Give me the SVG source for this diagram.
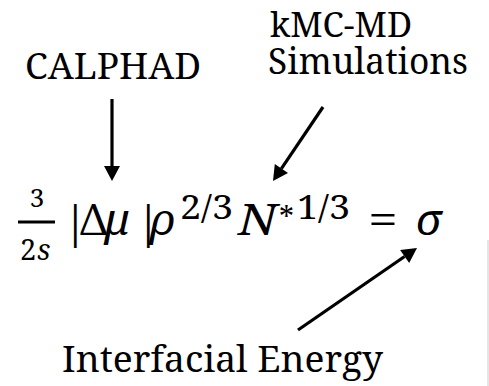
<svg xmlns="http://www.w3.org/2000/svg" width="489" height="386" viewBox="0 0 489 386">
<rect x="0" y="0" width="489" height="386" fill="#ffffff"/>
<line x1="488" y1="240" x2="488" y2="386" stroke="#dcdcdc" stroke-width="1.5"/>
<g id="calphad"><text style="font-family:'Noto Serif',serif;font-size:36px" x="25" y="79" textLength="176" lengthAdjust="spacingAndGlyphs">CALPHAD</text></g>
<g id="kmc"><text style="font-family:'Noto Serif',serif;font-size:35px" x="270" y="37" textLength="142" lengthAdjust="spacingAndGlyphs">kMC-MD</text>
<text style="font-family:'Noto Serif',serif;font-size:36px" x="268" y="74" textLength="200" lengthAdjust="spacingAndGlyphs">Simulations</text></g>
<g id="interfacial"><text style="font-family:'Noto Serif',serif;font-size:36px" x="62" y="372" textLength="321" lengthAdjust="spacingAndGlyphs">Interfacial Energy</text></g>
<g id="equation">
<text style="font-family:'Noto Serif',serif;font-size:26px" x="37" y="207" text-anchor="middle">3</text>
<rect x="18" y="220.5" width="37" height="3" fill="#000000"/>
<text style="font-family:'Noto Serif',serif;font-size:29px" x="20" y="260">2</text>
<text style="font-family:'Noto Serif',serif;font-size:29px;font-style:italic" x="37" y="260">s</text>
<text style="font-family:'Noto Serif',serif;font-size:44px" x="63" y="237">|</text>
<text style="font-family:'Noto Serif',serif;font-size:43px" x="80" y="235" textLength="27" lengthAdjust="spacingAndGlyphs">Δ</text>
<text style="font-family:'Noto Serif',serif;font-size:43px;font-style:italic" x="105" y="235">μ</text>
<text style="font-family:'Noto Serif',serif;font-size:44px" x="136" y="237">|</text>
<text style="font-family:'Noto Serif',serif;font-size:43px;font-style:italic" x="151" y="235">ρ</text>
<text style="font-family:'Noto Serif',serif;font-size:32px" x="180" y="219" textLength="53" lengthAdjust="spacingAndGlyphs">2/3</text>
<text style="font-family:'Noto Serif',serif;font-size:44px;font-style:italic" x="238" y="235" textLength="39" lengthAdjust="spacingAndGlyphs">N</text>
<text style="font-family:'Noto Serif',serif;font-size:30px" x="279" y="229">*</text>
<text style="font-family:'Noto Serif',serif;font-size:32px" x="297" y="219" textLength="53" lengthAdjust="spacingAndGlyphs">1/3</text>
<text style="font-family:'Noto Serif',serif;font-size:44px" x="368" y="235" textLength="30" lengthAdjust="spacingAndGlyphs">=</text>
<text style="font-family:'Noto Serif',serif;font-size:44px;font-style:italic" x="416" y="235">σ</text>
</g>
<g id="connectors">
<line x1="112" y1="99" x2="112" y2="167" stroke="#000000" stroke-width="3.2"/>
<polygon points="104,166 120,166 112,181" fill="#000000"/>
<line x1="323" y1="107" x2="281.4" y2="168.6" stroke="#000000" stroke-width="3.2"/>
<polygon points="288,173.1 274.8,164.1 273,181" fill="#000000"/>
<line x1="298" y1="330" x2="404.6" y2="256.5" stroke="#000000" stroke-width="3.2"/>
<polygon points="409.2,263.1 400.1,249.9 417,248" fill="#000000"/>
</g>
</svg>
